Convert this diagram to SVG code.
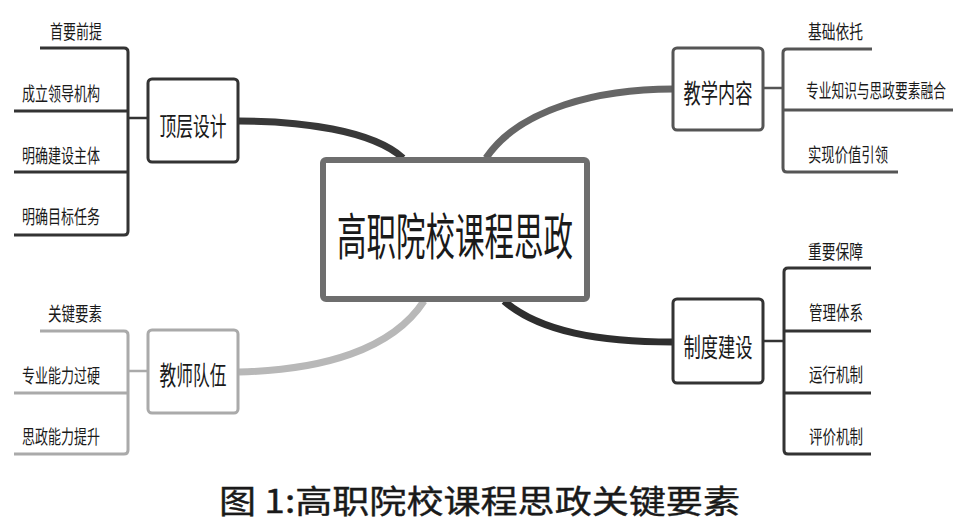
<svg xmlns="http://www.w3.org/2000/svg" width="953" height="521" viewBox="0 0 953 521">
<style>
text{font-family:"Noto Sans CJK SC","Noto Sans",sans-serif;fill:#1a1a1a;dominant-baseline:central}
.leaf{font-size:19px}
.topic{font-size:26px;text-anchor:middle}
.box{fill:#fff;stroke-width:3}
.br{fill:none;stroke-width:3;stroke-linecap:butt}
.curve{fill:none;stroke-width:7;stroke-linecap:butt}
</style>
<rect width="953" height="521" fill="#fff"/>
<g id="connectors">
<path class="curve" d="M239,121 C300,121 372,130 403,158" stroke="#383838"/>
<path class="curve" d="M486,158 C520,108 600,89 673,89" stroke="#666"/>
<path class="curve" d="M239,372 C322,370 392,350 424,301" stroke="#b8b8b8"/>
<path class="curve" d="M504,301 C540,332 600,342 673,342" stroke="#2e2e2e"/>
</g>
<g id="center">
<rect x="323" y="160" width="264" height="139" rx="3" fill="#fff" stroke="#6e6e6e" stroke-width="6"/>
<text x="337" y="233" font-size="50" textLength="236" lengthAdjust="spacingAndGlyphs">高职院校课程思政</text>
</g>
<g id="top-design">
<rect class="box" x="148" y="79" width="90" height="83" rx="4" stroke="#333"/>
<text class="topic" x="193" y="124" textLength="67" lengthAdjust="spacingAndGlyphs">顶层设计</text>
<path class="br" stroke="#333" d="M40,48 H124 Q128,48 128,52 V231 Q128,235 124,235 H14 M14,111 H128 M14,172 H128"/>
<path stroke="#333" stroke-width="2.5" d="M128,118 H148"/>
<text class="leaf" x="50" y="30" textLength="52" lengthAdjust="spacingAndGlyphs">首要前提</text>
<text class="leaf" x="22" y="92" textLength="78" lengthAdjust="spacingAndGlyphs">成立领导机构</text>
<text class="leaf" x="22" y="154" textLength="78" lengthAdjust="spacingAndGlyphs">明确建设主体</text>
<text class="leaf" x="22" y="215" textLength="78" lengthAdjust="spacingAndGlyphs">明确目标任务</text>
</g>
<g id="teachers">
<rect class="box" x="148" y="330" width="90" height="83" rx="4" stroke="#aaa" stroke-width="2.5"/>
<text class="topic" x="193" y="373" textLength="67" lengthAdjust="spacingAndGlyphs">教师队伍</text>
<path class="br" stroke="#aaa" d="M40,331 H124 Q128,331 128,335 V450 Q128,454 124,454 H14 M14,393 H128"/>
<path stroke="#aaa" stroke-width="2.5" d="M128,371 H148"/>
<text class="leaf" x="48" y="312" textLength="54" lengthAdjust="spacingAndGlyphs">关键要素</text>
<text class="leaf" x="22" y="374" textLength="78" lengthAdjust="spacingAndGlyphs">专业能力过硬</text>
<text class="leaf" x="22" y="435" textLength="78" lengthAdjust="spacingAndGlyphs">思政能力提升</text>
</g>
<g id="teaching-content">
<rect class="box" x="673" y="48" width="90" height="82" rx="4" stroke="#555"/>
<text class="topic" x="718" y="91" textLength="69" lengthAdjust="spacingAndGlyphs">教学内容</text>
<path class="br" stroke="#555" d="M872,49 H787 Q783,49 783,53 V168 Q783,172 787,172 H898 M783,110 H953"/>
<path stroke="#555" stroke-width="2.5" d="M763,88 H783"/>
<text class="leaf" transform="translate(806,90) scale(0.67,1)" x="0" y="0">专业知识与思政要素融合</text>
<text class="leaf" x="808" y="30" textLength="55" lengthAdjust="spacingAndGlyphs">基础依托</text>
<text class="leaf" x="808" y="153" textLength="80" lengthAdjust="spacingAndGlyphs">实现价值引领</text>
</g>
<g id="system">
<rect class="box" x="673" y="299" width="90" height="84" rx="4" stroke="#333" stroke-width="3.5"/>
<text class="topic" x="718" y="345" textLength="69" lengthAdjust="spacingAndGlyphs">制度建设</text>
<path class="br" stroke="#333" d="M871,268 H788 Q784,268 784,272 V450 Q784,454 788,454 H871 M784,331 H871 M784,393 H871"/>
<path stroke="#333" stroke-width="2.5" d="M763,341 H784"/>
<text class="leaf" x="808" y="250" textLength="55" lengthAdjust="spacingAndGlyphs">重要保障</text>
<text class="leaf" x="809" y="311" textLength="54" lengthAdjust="spacingAndGlyphs">管理体系</text>
<text class="leaf" x="809" y="373" textLength="54" lengthAdjust="spacingAndGlyphs">运行机制</text>
<text class="leaf" x="809" y="435" textLength="54" lengthAdjust="spacingAndGlyphs">评价机制</text>
</g>
<text id="caption" x="219" y="499" font-size="32" font-weight="400" stroke="#1a1a1a" stroke-width="0.4" textLength="521" lengthAdjust="spacingAndGlyphs">图 1:高职院校课程思政关键要素</text>
</svg>
